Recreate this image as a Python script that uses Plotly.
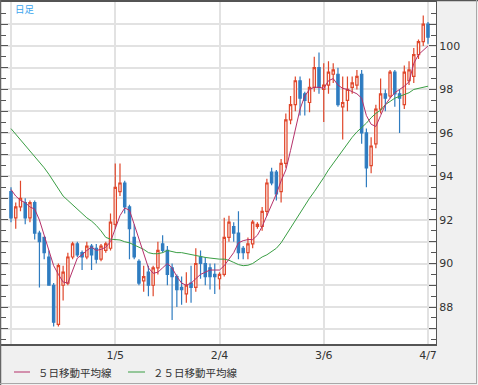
import plotly.graph_objects as go

# ---- data ----
bars = list(range(89))
opens = [93.3, 92.1, 92.6, 92.8, 92.1, 92.8, 91.4, 91.2, 90.3, 89.0,
         87.2, 89.0, 89.1, 90.3, 90.9, 90.5, 90.3, 90.8, 90.7, 90.2,
         90.6, 90.7, 91.8, 93.3, 93.7, 92.6, 91.2, 90.1, 89.2, 89.6,
         89.0, 89.8, 90.9, 90.6, 89.8, 89.4, 88.9, 88.6, 89.1, 88.9,
         90.3, 90.0, 89.8, 89.5, 89.3, 89.5, 91.2, 91.7, 91.4, 90.7,
         90.5, 90.9, 91.7, 91.7, 92.4, 94.2, 94.2, 93.3, 94.6, 96.6,
         97.3, 98.4, 97.8, 97.4, 98.1, 99.0, 98.0, 98.2, 98.7, 98.7,
         97.2, 97.5, 98.1, 98.2, 98.7, 96.0, 94.5, 95.5, 97.1, 97.8,
         97.7, 98.8, 97.8, 97.3, 98.4, 98.6, 99.6, 100.2, 101.0]
highs = [93.5, 92.8, 93.8, 93.0, 92.9, 92.9, 91.5, 91.2, 90.6, 89.1,
         90.0, 89.9, 90.5, 91.0, 91.0, 90.6, 91.0, 90.9, 90.9, 90.9,
         91.0, 92.3, 94.6, 94.6, 93.8, 92.7, 91.8, 90.2, 89.9, 89.9,
         89.9, 91.0, 91.3, 90.8, 90.0, 89.5, 89.4, 89.6, 89.9, 90.7,
         90.6, 90.3, 90.0, 90.0, 89.6, 92.1, 92.2, 91.9, 92.4, 90.8,
         91.2, 92.0, 91.9, 92.6, 93.9, 94.4, 94.3, 94.8, 96.9, 97.7,
         98.6, 98.6, 97.9, 98.5, 99.5, 99.7, 99.2, 99.3, 99.2, 99.0,
         98.6, 98.6, 98.6, 98.9, 98.9, 96.2, 95.8, 97.3, 98.5, 98.0,
         98.9, 98.9, 98.0, 99.1, 99.3, 99.9, 100.3, 101.4, 101.1]
lows = [91.9, 91.6, 92.4, 91.8, 91.9, 91.1, 88.9, 90.2, 89.0, 87.1,
        87.1, 88.3, 89.0, 90.2, 90.3, 89.7, 90.2, 89.7, 90.0, 90.1,
        90.5, 90.6, 91.6, 93.1, 92.3, 90.2, 90.2, 89.0, 88.7, 88.5,
        88.5, 89.5, 90.5, 89.0, 87.4, 88.0, 88.1, 88.2, 88.2, 88.7,
        89.3, 89.0, 88.8, 88.6, 88.8, 89.4, 91.0, 91.0, 90.2, 90.2,
        90.2, 90.7, 91.6, 91.5, 92.2, 93.6, 92.9, 92.8, 94.4, 96.4,
        97.0, 96.8, 96.8, 96.95, 97.9, 97.8, 96.5, 97.8, 98.3, 97.2,
        95.7, 97.0, 97.8, 98.0, 95.5, 93.5, 94.15, 95.3, 96.9, 97.0,
        97.6, 97.2, 96.0, 97.1, 98.2, 98.3, 99.4, 100.0, 100.1]
closes = [92.1, 92.6, 93.0, 92.1, 92.8, 91.4, 91.0, 90.5, 89.0, 87.3,
          89.9, 89.6, 90.3, 90.9, 90.4, 90.3, 90.8, 90.4, 90.2, 90.8,
          90.9, 91.9, 93.5, 93.7, 92.6, 91.6, 90.3, 89.1, 89.4, 89.0,
          89.8, 90.6, 90.6, 89.5, 89.4, 88.8, 88.8, 89.0, 88.9, 90.0,
          90.0, 89.4, 89.4, 89.4, 89.5, 91.2, 91.9, 91.4, 90.5, 90.5,
          90.9, 91.9, 91.8, 92.4, 93.7, 93.7, 93.2, 94.6, 96.6, 97.3,
          98.4, 97.6, 97.5, 98.1, 99.0, 98.1, 98.2, 98.8, 98.9, 97.3,
          97.4, 98.0, 98.3, 98.6, 96.0, 94.4, 95.4, 97.1, 97.8, 97.6,
          98.8, 97.8, 97.6, 98.8, 98.9, 99.6, 100.2, 101.0, 100.4]
ma5 = [93.4, 93.1, 92.9, 92.8, 92.6, 92.5, 92.0, 91.3, 90.5, 89.9,
       89.5, 89.15, 89.1, 89.7, 90.25, 90.4, 90.6, 90.75, 90.6, 90.65,
       90.75, 91.0, 91.6, 92.2, 92.55, 92.45, 91.8, 91.1, 90.4, 89.8,
       89.55, 89.6, 89.8, 90.0, 89.8, 89.4, 89.1, 89.0, 89.1, 89.3,
       89.5, 89.6, 89.7, 89.7, 89.7, 89.9, 90.2, 90.5, 90.95, 91.05,
       91.1, 91.1, 91.3, 91.7, 92.2, 92.7, 93.2, 93.8, 94.3, 95.2,
       96.1, 97.1, 97.7, 98.0, 98.1, 98.1, 98.05, 98.4, 98.5, 98.2,
       98.05, 98.0, 97.9, 97.8, 97.6, 96.8, 96.4, 96.3, 96.8, 97.3,
       97.6, 97.85, 98.0, 98.15, 98.35, 99.2, 99.6, 99.8, 100.0]
ma25 = [96.2, 95.95, 95.7, 95.45, 95.15, 94.9, 94.65, 94.4, 94.1, 93.75,
        93.4, 93.1, 92.9, 92.7, 92.5, 92.3, 92.1, 91.95, 91.75, 91.5,
        91.2, 91.12, 91.1, 91.08, 91.0, 90.95, 90.85, 90.75, 90.65, 90.5,
        90.45, 90.45, 90.5, 90.6, 90.55, 90.5, 90.5, 90.45, 90.4, 90.35,
        90.3, 90.28, 90.25, 90.22, 90.2, 90.2, 90.15, 90.05, 89.95, 89.9,
        89.92, 90.0, 90.15, 90.3, 90.4, 90.55, 90.7, 90.95, 91.3, 91.6,
        91.95, 92.3, 92.65, 93.0, 93.3, 93.6, 93.95, 94.3, 94.6, 94.95,
        95.25, 95.5, 95.8, 96.05, 96.25, 96.45, 96.7, 96.9, 97.05, 97.3,
        97.45, 97.6, 97.68, 97.75, 97.85, 98.0, 98.05, 98.1, 98.15]
x_tick_pos = [0, 22, 44, 66, 88]
x_tick_text = ["", "1/5", "2/4", "3/6", "4/7"]
y_tick_vals = list(range(87, 102))
y_tick_text = [str(v) if v % 2 == 0 else "" for v in y_tick_vals]
title_text = "日足"
name_ma5 = "５日移動平均線"
name_ma25 = "２５日移動平均線"

RED = "#e0472b"
BLUE = "#2f7cc0"
MA5_COLOR = "#b5306a"
MA25_COLOR = "#3a9e44"
AXIS = "#555555"
GRID = "#e2e2e2"

fig = go.Figure()
fig.add_trace(go.Candlestick(
    x=bars, open=opens, high=highs, low=lows, close=closes,
    increasing=dict(line=dict(color=RED, width=1.2), fillcolor="#fff4f1"),
    decreasing=dict(line=dict(color=BLUE, width=1.2), fillcolor=BLUE),
    whiskerwidth=0, showlegend=False, hoverinfo="skip"))
fig.add_trace(go.Scatter(x=bars, y=ma25, mode="lines", name=name_ma25,
                         line=dict(color=MA25_COLOR, width=1), showlegend=False))
fig.add_trace(go.Scatter(x=bars, y=ma5, mode="lines", name=name_ma5,
                         line=dict(color=MA5_COLOR, width=1), showlegend=False))

W, H = 478, 385
L, R, T, B = 1, 42, 2, 41
pw, ph = W - L - R, H - T - B


def px(xp):
    return (xp - L) / pw


def py(yp):
    return (H - B - yp) / ph


shapes = [
    # outer border
    dict(type="line", xref="paper", yref="paper", x0=px(0), x1=px(478), y0=py(0.5), y1=py(0.5),
         line=dict(color="#555555", width=1.5)),
    dict(type="line", xref="paper", yref="paper", x0=px(0.5), x1=px(0.5), y0=py(0), y1=py(385),
         line=dict(color="#666666", width=1.5)),
    dict(type="line", xref="paper", yref="paper", x0=px(476.5), x1=px(476.5), y0=py(0), y1=py(384),
         line=dict(color="#a8a8a8", width=1)),
    dict(type="line", xref="paper", yref="paper", x0=px(0), x1=px(477), y0=py(383.5), y1=py(383.5),
         line=dict(color="#a8a8a8", width=1)),
    # legend samples
    dict(type="line", xref="paper", yref="paper", x0=px(14), x1=px(30), y0=py(372), y1=py(372),
         line=dict(color=MA5_COLOR, width=1)),
    dict(type="line", xref="paper", yref="paper", x0=px(128), x1=px(145), y0=py(372), y1=py(372),
         line=dict(color=MA25_COLOR, width=1)),
]

annotations = [
    dict(xref="paper", yref="paper", x=px(13), y=py(9), xanchor="left", yanchor="middle",
         text=title_text, showarrow=False,
         font=dict(family="Noto Sans CJK JP", size=9.5, color="#3aa4ee")),
    dict(xref="paper", yref="paper", x=px(36), y=py(372), xanchor="left", yanchor="middle",
         text=name_ma5, showarrow=False,
         font=dict(family="Noto Sans CJK JP", size=10.5, color="#333333")),
    dict(xref="paper", yref="paper", x=px(151), y=py(372), xanchor="left", yanchor="middle",
         text=name_ma25, showarrow=False,
         font=dict(family="Noto Sans CJK JP", size=10.5, color="#333333")),
]

fig.update_layout(
    width=W, height=H,
    margin=dict(l=L, r=R, t=T, b=B, pad=0),
    paper_bgcolor="#f0f0f0", plot_bgcolor="white",
    font=dict(family="DejaVu Sans", size=11, color="#333333"),
    shapes=shapes, annotations=annotations,
    showlegend=False,
    xaxis=dict(range=[-2.11, 89.69], tickmode="array", tickvals=x_tick_pos, ticktext=x_tick_text,
               showgrid=True, gridcolor=GRID, gridwidth=2, zeroline=False,
               showline=True, linecolor=AXIS, linewidth=1.5, mirror=True,
               ticks="", rangeslider=dict(visible=False), fixedrange=True),
    yaxis=dict(range=[86.30, 102.02], side="right", tickmode="array",
               tickvals=y_tick_vals, ticktext=y_tick_text,
               ticks="inside", ticklen=7, tickcolor=AXIS, tickwidth=1,
               showgrid=True, gridcolor=GRID, gridwidth=1.5, zeroline=False,
               showline=True, linecolor=AXIS, linewidth=1, mirror="allticks",
               minor=dict(tickmode="linear", tick0=0, dtick=0.5, ticks="inside", ticklen=5,
                          tickcolor=AXIS, showgrid=False),
               ticklabelstandoff=0),
)

fig.write_html("out.html", config={"displayModeBar": False},
               post_script="document.body.style.margin='0';")
